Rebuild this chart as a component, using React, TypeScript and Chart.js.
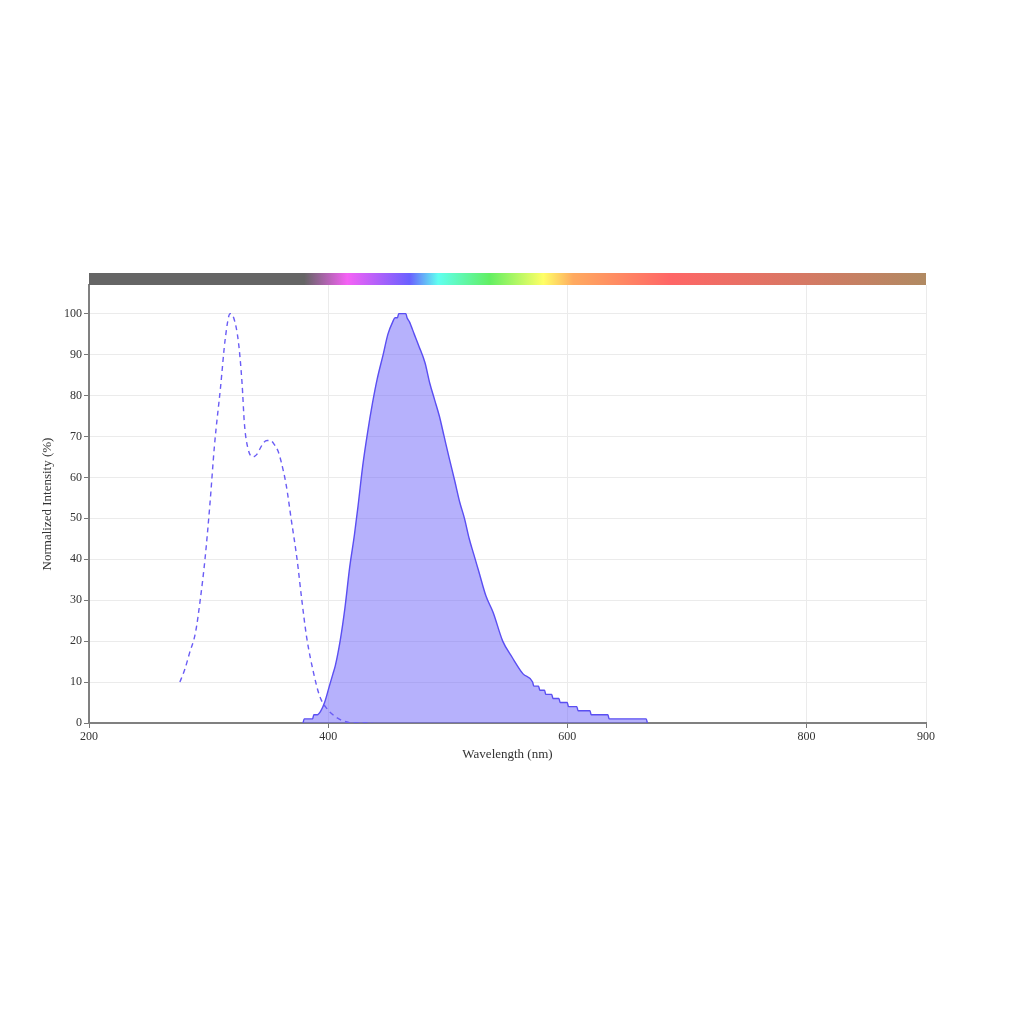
import React, { useEffect, useRef } from "react";
import { Chart, registerables } from "chart.js";

Chart.register(...registerables);

// Excitation spectrum (dashed)
const exWavelengths = [276, 280, 284, 289, 293, 297, 301, 305, 310, 314, 318, 321, 325, 328, 330, 333, 337, 340, 343, 346, 349, 352, 355, 358, 361, 365, 369, 374, 378, 382, 388, 393, 399, 404, 411, 418, 421, 437];
const exValues = [10, 13, 17, 22, 30, 40, 53, 68, 82, 94, 100, 99, 93, 83, 73, 67, 65, 65.5, 67, 68.5, 69, 69, 68, 66.5, 63.5, 58, 50, 40, 30, 21, 12, 6.5, 3.5, 2, 0.7, 0.1, 0, 0];

// Emission spectrum (filled)
const emWavelengths = [379, 380, 387, 388, 391, 394, 397, 401, 404, 406, 410, 414, 418, 422, 425, 429, 433, 437, 441, 446, 450, 454, 456, 458, 459, 465, 466, 468, 472, 476, 481, 485, 489, 493, 497, 501, 506, 510, 514, 518, 522, 526, 532, 538, 546, 554, 563, 571, 572, 576, 577, 581, 582, 587, 588, 593, 594, 600, 601, 608, 609, 619, 620, 634, 635, 666, 667];
const emValues = [0, 1, 1, 2, 2, 3, 5, 9, 12, 14, 20, 28, 38, 46, 53, 63, 71, 78, 84, 90, 95, 98, 99, 99, 100, 100, 99, 98, 95, 92, 88, 83, 79, 75, 70, 65, 59, 54, 50, 45, 41, 37, 31, 27, 20, 16, 12, 10, 9, 9, 8, 8, 7, 7, 6, 6, 5, 5, 4, 4, 3, 3, 2, 2, 1, 1, 0];

const xTicks = [200, 400, 600, 800, 900];
const yTicks = [0, 10, 20, 30, 40, 50, 60, 70, 80, 90, 100];

// Spectrum colour bar
const barWavelengths = [200, 380, 416, 468, 492, 535, 580, 605, 686, 900];
const barColors = ["#656565", "#656565", "#f562f5", "#6a60ff", "#60fff0", "#62ef62", "#ffff66", "#ffaa60", "#ff6666", "#b08a62"];

const colorBarPlugin = {
  id: "colorBar",
  afterDraw(chart: any) {
    const { ctx, chartArea, scales } = chart;
    const x = scales.x;
    const x0 = x.getPixelForValue(x.min);
    const x1 = x.getPixelForValue(x.max);
    const g = ctx.createLinearGradient(x0, 0, x1, 0);
    barWavelengths.forEach((w, i) => {
      g.addColorStop((w - x.min) / (x.max - x.min), barColors[i]);
    });
    ctx.save();
    ctx.fillStyle = g;
    ctx.fillRect(chartArea.left, chartArea.top - 12, chartArea.right - chartArea.left, 12);
    ctx.restore();
  },
};

export default function App() {
  const ref = useRef<HTMLCanvasElement>(null);
  useEffect(() => {
    if (!ref.current) return;
    const font = "'Liberation Serif', 'Times New Roman', serif";
    const chart = new Chart(ref.current, {
      type: "line",
      data: {
        datasets: [
          {
            label: "Excitation",
            data: exWavelengths.map((w, i) => ({ x: w, y: exValues[i] })),
            borderColor: "#6a5cf5",
            borderWidth: 1.4,
            borderDash: [5, 4],
            pointRadius: 0,
            fill: false,
            cubicInterpolationMode: "monotone",
          },
          {
            label: "Emission",
            data: emWavelengths.map((w, i) => ({ x: w, y: emValues[i] })),
            borderColor: "#5a4ef2",
            borderWidth: 1.4,
            backgroundColor: "rgba(110,100,250,0.5)",
            pointRadius: 0,
            fill: "origin",
            cubicInterpolationMode: "monotone",
          },
        ],
      },
      options: {
        animation: false,
        responsive: true,
        maintainAspectRatio: false,
        layout: { padding: { left: 36, top: 285, right: 98, bottom: 258 } },
        plugins: { legend: { display: false }, tooltip: { enabled: false } },
        scales: {
          x: {
            type: "linear",
            min: 200,
            max: 900,
            afterBuildTicks: (s: any) => {
              s.ticks = xTicks.map((v) => ({ value: v }));
            },
            afterFit: (s: any) => {
              s.height = 43;
            },
            grid: { color: "#ebebeb", tickColor: "#777", tickLength: 5 },
            border: { color: "#808080", width: 2 },
            ticks: { color: "#333", font: { family: font, size: 12 }, padding: 2, maxRotation: 0 },
            title: { display: true, text: "Wavelength (nm)", color: "#333", font: { family: font, size: 13 }, padding: 4 },
          },
          y: {
            type: "linear",
            min: 0,
            max: 107,
            afterBuildTicks: (s: any) => {
              s.ticks = yTicks.map((v) => ({ value: v }));
            },
            afterFit: (s: any) => {
              s.width = 53;
            },
            grid: { color: "#ebebeb", tickColor: "#777", tickLength: 5 },
            border: { color: "#808080", width: 2 },
            ticks: { color: "#333", font: { family: font, size: 12 }, padding: 2 },
            title: { display: true, text: "Normalized Intensity (%)", color: "#333", font: { family: font, size: 13 }, padding: 4 },
          },
        },
      },
      plugins: [colorBarPlugin],
    } as any);
    return () => chart.destroy();
  }, []);
  return (
    <div style={{ position: "fixed", left: 0, top: 0, width: 1024, height: 1024, background: "#fff" }}>
      <canvas ref={ref} />
    </div>
  );
}
